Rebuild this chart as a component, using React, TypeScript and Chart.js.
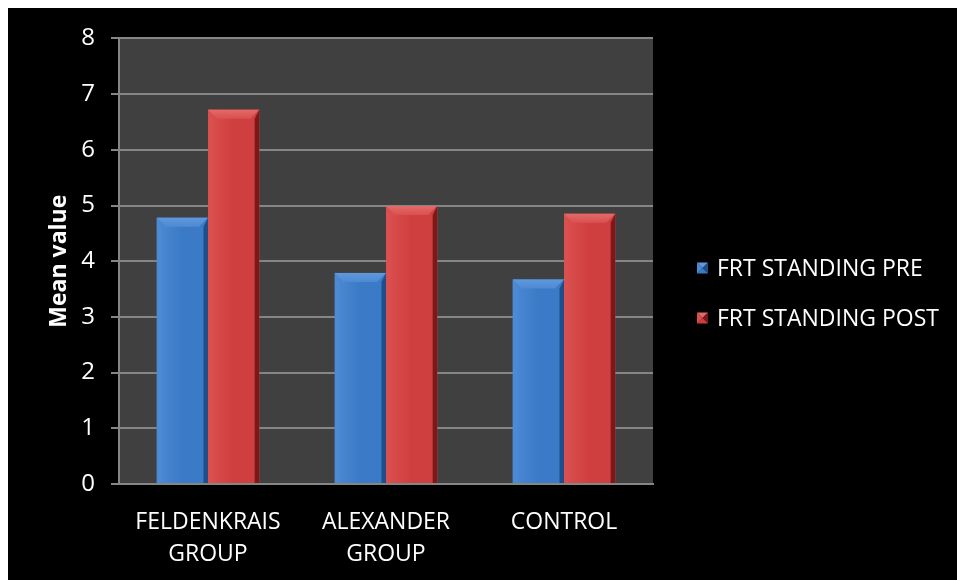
import React, { useEffect, useLayoutEffect, useRef } from "react";
import { Chart, registerables } from "chart.js";

Chart.register(...registerables);

// Group labels (multi-line) along the x axis
const categories: string[][] = [
  ["FELDENKRAIS", "GROUP"],
  ["ALEXANDER", "GROUP"],
  ["CONTROL"],
];

const seriesNames = ["FRT STANDING PRE", "FRT STANDING POST"];

// Mean FRT standing values per group
const preValues = [4.78, 3.79, 3.67];
const postValues = [6.72, 4.99, 4.85];

const yTicks = [0, 1, 2, 3, 4, 5, 6, 7, 8];

const FONT = "'Open Sans', 'Liberation Sans', sans-serif";
const GRID = "#868686";

const palette = [
  { base: "#3b7ac6", light: "#5f98dc", dark: "#1f4f8a", side: "#4d8ad4" },
  { base: "#d03f3f", light: "#e26a68", dark: "#7e1818", side: "#da5050" },
];

// Paints the black page and the grey plot area
const backgroundPlugin = {
  id: "bg",
  beforeDraw(chart: any) {
    const { ctx, chartArea } = chart;
    ctx.save();
    ctx.fillStyle = "#000000";
    ctx.fillRect(0, 0, chart.width, chart.height);
    ctx.fillStyle = "#404040";
    ctx.fillRect(
      chartArea.left,
      chartArea.top,
      chartArea.right - chartArea.left,
      chartArea.bottom - chartArea.top
    );
    ctx.restore();
  },
};

// Adds a bevelled edge to every bar
const bevelPlugin = {
  id: "bevel",
  afterDatasetsDraw(chart: any) {
    const ctx = chart.ctx;
    chart.data.datasets.forEach((_ds: any, di: number) => {
      const meta = chart.getDatasetMeta(di);
      const col = palette[di];
      meta.data.forEach((bar: any) => {
        const { x, y, base, width } = bar.getProps(["x", "y", "base", "width"], true);
        const l = x - width / 2;
        const r = x + width / 2;
        const t = y;
        const b = base;
        const bv = Math.min(9, (b - t) / 2);
        ctx.save();
        // body gradient
        const g = ctx.createLinearGradient(l, 0, r, 0);
        g.addColorStop(0, col.side);
        g.addColorStop(0.5, col.base);
        g.addColorStop(1, col.base);
        ctx.fillStyle = g;
        ctx.fillRect(l, t, r - l, b - t);
        // top bevel
        const tg = ctx.createLinearGradient(0, t, 0, t + bv);
        tg.addColorStop(0, col.light);
        tg.addColorStop(1, col.side);
        ctx.fillStyle = tg;
        ctx.beginPath();
        ctx.moveTo(l, t);
        ctx.lineTo(r, t);
        ctx.lineTo(r - bv, t + bv);
        ctx.lineTo(l + bv, t + bv);
        ctx.closePath();
        ctx.fill();
        // left bevel
        ctx.fillStyle = col.side;
        ctx.beginPath();
        ctx.moveTo(l, t);
        ctx.lineTo(l + bv * 0.5, t + bv);
        ctx.lineTo(l + bv * 0.5, b);
        ctx.lineTo(l, b);
        ctx.closePath();
        ctx.fill();
        // right bevel
        ctx.fillStyle = col.dark;
        ctx.beginPath();
        ctx.moveTo(r, t);
        ctx.lineTo(r - bv * 0.5, t + bv);
        ctx.lineTo(r - bv * 0.5, b);
        ctx.lineTo(r, b);
        ctx.closePath();
        ctx.fill();
        ctx.restore();
      });
    });
  },
};

// Legend drawn to the right of the plot
const legendPlugin = {
  id: "sideLegend",
  afterDraw(chart: any) {
    const ctx = chart.ctx;
    const x0 = chart.chartArea.right + 44;
    const yStart = 260;
    const gap = 50;
    ctx.save();
    ctx.font = `23px ${FONT}`;
    ctx.textBaseline = "middle";
    ctx.textAlign = "left";
    chart.data.datasets.forEach((ds: any, i: number) => {
      const col = palette[i];
      const cy = yStart + i * gap;
      const s = 11;
      const bx = x0;
      const by = cy - s / 2;
      const cx = bx + s / 2;
      const cyy = by + s / 2;
      const tri = (pts: number[][], c: string) => {
        ctx.fillStyle = c;
        ctx.beginPath();
        ctx.moveTo(pts[0][0], pts[0][1]);
        for (let k = 1; k < pts.length; k++) ctx.lineTo(pts[k][0], pts[k][1]);
        ctx.closePath();
        ctx.fill();
      };
      tri([[bx, by], [bx + s, by], [cx, cyy]], col.light);
      tri([[bx + s, by], [bx + s, by + s], [cx, cyy]], col.dark);
      tri([[bx, by + s], [bx + s, by + s], [cx, cyy]], col.base);
      tri([[bx, by], [bx, by + s], [cx, cyy]], col.side);
      ctx.fillStyle = "#ffffff";
      ctx.fillText(ds.label, x0 + 20, cy + 1);
    });
    ctx.restore();
  },
};

export default function App() {
  const ref = useRef<HTMLCanvasElement | null>(null);

  // keep the 8px page margin only on the top and left so the canvas fills the rest
  useLayoutEffect(() => {
    document.body.style.margin = "8px 0 0 8px";
    document.documentElement.style.overflow = "hidden";
  }, []);

  useEffect(() => {
    if (!ref.current) return;
    const chart = new Chart(ref.current, {
      type: "bar",
      data: {
        labels: categories,
        datasets: [
          {
            label: seriesNames[0],
            data: preValues,
            backgroundColor: palette[0].base,
            borderWidth: 0,
          },
          {
            label: seriesNames[1],
            data: postValues,
            backgroundColor: palette[1].base,
            borderWidth: 0,
          },
        ],
      },
      options: {
        responsive: false,
        animation: false,
        layout: { padding: { top: 29, right: 304, bottom: 0, left: 0 } },
        datasets: {
          bar: { categoryPercentage: 0.575, barPercentage: 1.0 },
        },
        plugins: {
          legend: { display: false },
          tooltip: { enabled: false },
        },
        scales: {
          x: {
            grid: { display: false, drawTicks: false },
            border: { display: true, color: GRID, width: 2 },
            ticks: {
              color: "#ffffff",
              font: { family: FONT, size: 23, lineHeight: 1.4 },
              padding: 22,
              maxRotation: 0,
            },
            afterFit(scale: any) {
              scale.height = 96;
            },
          },
          y: {
            min: 0,
            max: 8,
            afterBuildTicks(scale: any) {
              scale.ticks = yTicks.map((v) => ({ value: v }));
            },
            grid: {
              color: GRID,
              lineWidth: 2,
              tickLength: 8,
              drawTicks: true,
            },
            border: { display: true, color: GRID, width: 2 },
            ticks: {
              color: "#ffffff",
              font: { family: FONT, size: 24 },
              padding: 16,
            },
            title: {
              display: true,
              text: "Mean value",
              color: "#ffffff",
              font: { family: FONT, size: 23, weight: "bold" },
              padding: { top: 38, bottom: 6 },
            },
            afterFit(scale: any) {
              scale.width = 111;
            },
          },
        },
      },
      plugins: [backgroundPlugin, bevelPlugin, legendPlugin],
    });
    return () => chart.destroy();
  }, []);

  return <canvas ref={ref} width={949} height={572} style={{ display: "block" }} />;
}
